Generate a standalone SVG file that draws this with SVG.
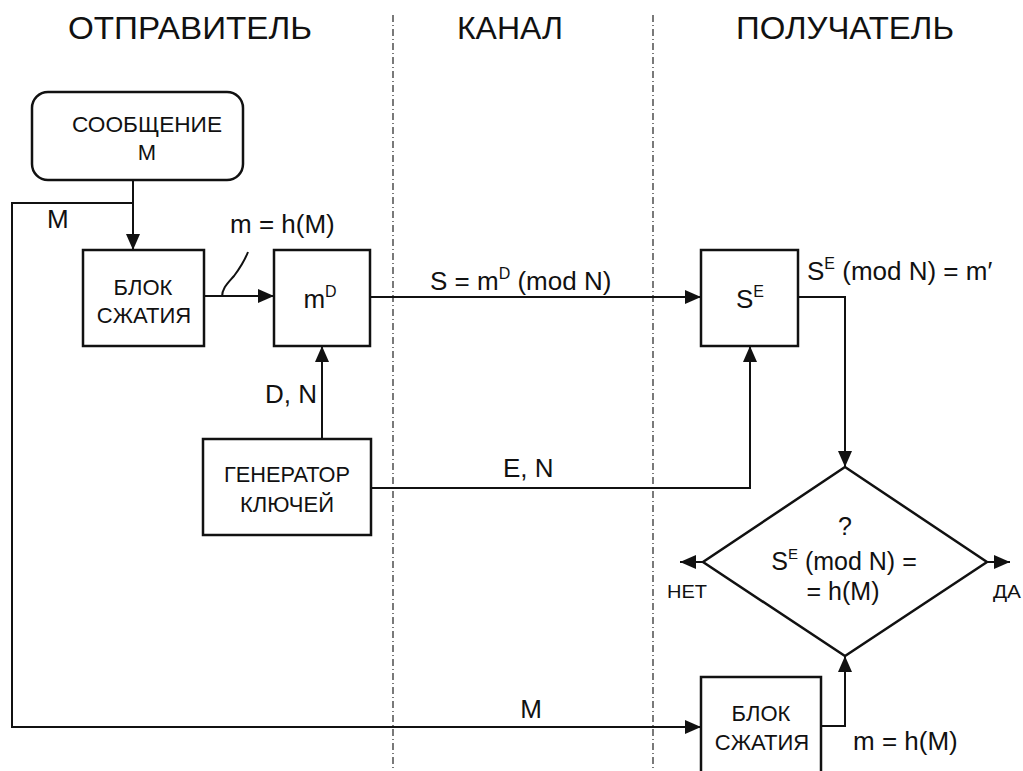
<svg xmlns="http://www.w3.org/2000/svg" width="1023" height="771" viewBox="0 0 1023 771">
<defs>
<style>
.box{fill:none;stroke:#111;stroke-width:2.5}
.ln{fill:none;stroke:#111;stroke-width:2}
.sep{fill:none;stroke:#333;stroke-width:1.3;stroke-dasharray:7 3 1 3}
text{font-family:"Liberation Sans",Arial,sans-serif;fill:#111}
.hd{font-size:31px;text-anchor:middle}
.bx{font-size:22px;text-anchor:middle}
.lb{font-size:26px}
.dm{font-size:25px;text-anchor:middle}
.sm{font-size:18px}
</style>
<marker id="ah" markerUnits="userSpaceOnUse" markerWidth="17" markerHeight="14" refX="16" refY="7" orient="auto">
<path d="M0,0 L16,7 L0,14 z" fill="#111"/>
</marker>
</defs>
<rect width="1023" height="771" fill="#fff"/>
<g id="lanes">
<line class="sep" x1="393" y1="15" x2="393" y2="771"/>
<line class="sep" x1="653" y1="15" x2="653" y2="771"/>
<text class="hd" x="190" y="39" textLength="244" lengthAdjust="spacingAndGlyphs">ОТПРАВИТЕЛЬ</text>
<text class="hd" x="510" y="39" textLength="106" lengthAdjust="spacingAndGlyphs">КАНАЛ</text>
<text class="hd" x="845" y="39" textLength="218" lengthAdjust="spacingAndGlyphs">ПОЛУЧАТЕЛЬ</text>
</g>
<g id="connectors">
<path class="ln" d="M133,180 V250" marker-end="url(#ah)"/>
<path class="ln" d="M133,203 H12 V727 H701" marker-end="url(#ah)"/>
<path class="ln" d="M204,296 H274" marker-end="url(#ah)"/>
<path class="ln" d="M222,297 C222,288 228,283 234,276 C240,268 244,262 248,252"/>
<path class="ln" d="M322,439 V346" marker-end="url(#ah)"/>
<path class="ln" d="M370,297 H701" marker-end="url(#ah)"/>
<path class="ln" d="M371,488 H750 V346" marker-end="url(#ah)"/>
<path class="ln" d="M798,297 H845 V467" marker-end="url(#ah)"/>
<path class="ln" d="M703,562 H680" marker-end="url(#ah)"/>
<path class="ln" d="M987,562 H1010" marker-end="url(#ah)"/>
<path class="ln" d="M821,726 H845 V656" marker-end="url(#ah)"/>
<text class="lb" x="47" y="228">M</text>
<text class="lb" x="230" y="233">m = h(M)</text>
<text class="lb" x="430" y="290">S = m<tspan font-size="16" dy="-11">D</tspan><tspan dy="11"> (mod N)</tspan></text>
<text class="lb" x="807" y="280">S<tspan font-size="16" dy="-11">E</tspan><tspan dy="11"> (mod N) = m′</tspan></text>
<text class="lb" x="265" y="403">D, N</text>
<text class="lb" x="503" y="477">E, N</text>
<text class="lb" x="531" y="718" text-anchor="middle">M</text>
<text class="lb" x="853" y="750">m = h(M)</text>
<text class="sm" x="667" y="598" textLength="40" lengthAdjust="spacingAndGlyphs">НЕТ</text>
<text class="sm" x="993" y="598" textLength="28" lengthAdjust="spacingAndGlyphs">ДА</text>
</g>
<g id="message">
<rect class="box" x="32" y="92" width="211" height="88" rx="16"/>
<text class="bx" x="147" y="132" textLength="150" lengthAdjust="spacingAndGlyphs">СООБЩЕНИЕ</text>
<text class="bx" x="147" y="160">M</text>
</g>
<g id="compress1">
<rect class="box" x="83" y="250" width="121" height="96"/>
<text class="bx" x="143" y="295">БЛОК</text>
<text class="bx" x="144" y="323">СЖАТИЯ</text>
</g>
<g id="sign">
<rect class="box" x="274" y="250" width="96" height="96"/>
<text class="lb" x="320" y="308" text-anchor="middle">m<tspan font-size="16" dy="-11">D</tspan></text>
</g>
<g id="keygen">
<rect class="box" x="203" y="439" width="168" height="96"/>
<text class="bx" x="287" y="482" textLength="126" lengthAdjust="spacingAndGlyphs">ГЕНЕРАТОР</text>
<text class="bx" x="287" y="512">КЛЮЧЕЙ</text>
</g>
<g id="verify">
<rect class="box" x="701" y="250" width="97" height="96"/>
<text class="lb" x="750" y="308" text-anchor="middle">S<tspan font-size="16" dy="-11">E</tspan></text>
</g>
<g id="decision">
<polygon class="box" points="845,467 987,562 845,656 703,562"/>
<text class="dm" x="845" y="535">?</text>
<text class="dm" x="844" y="570">S<tspan font-size="15" dy="-11">E</tspan><tspan dy="11"> (mod N) =</tspan></text>
<text class="dm" x="843" y="600">= h(M)</text>
</g>
<g id="compress2">
<rect class="box" x="701" y="677" width="120" height="120"/>
<text class="bx" x="761" y="721">БЛОК</text>
<text class="bx" x="762" y="750">СЖАТИЯ</text>
</g>
</svg>
